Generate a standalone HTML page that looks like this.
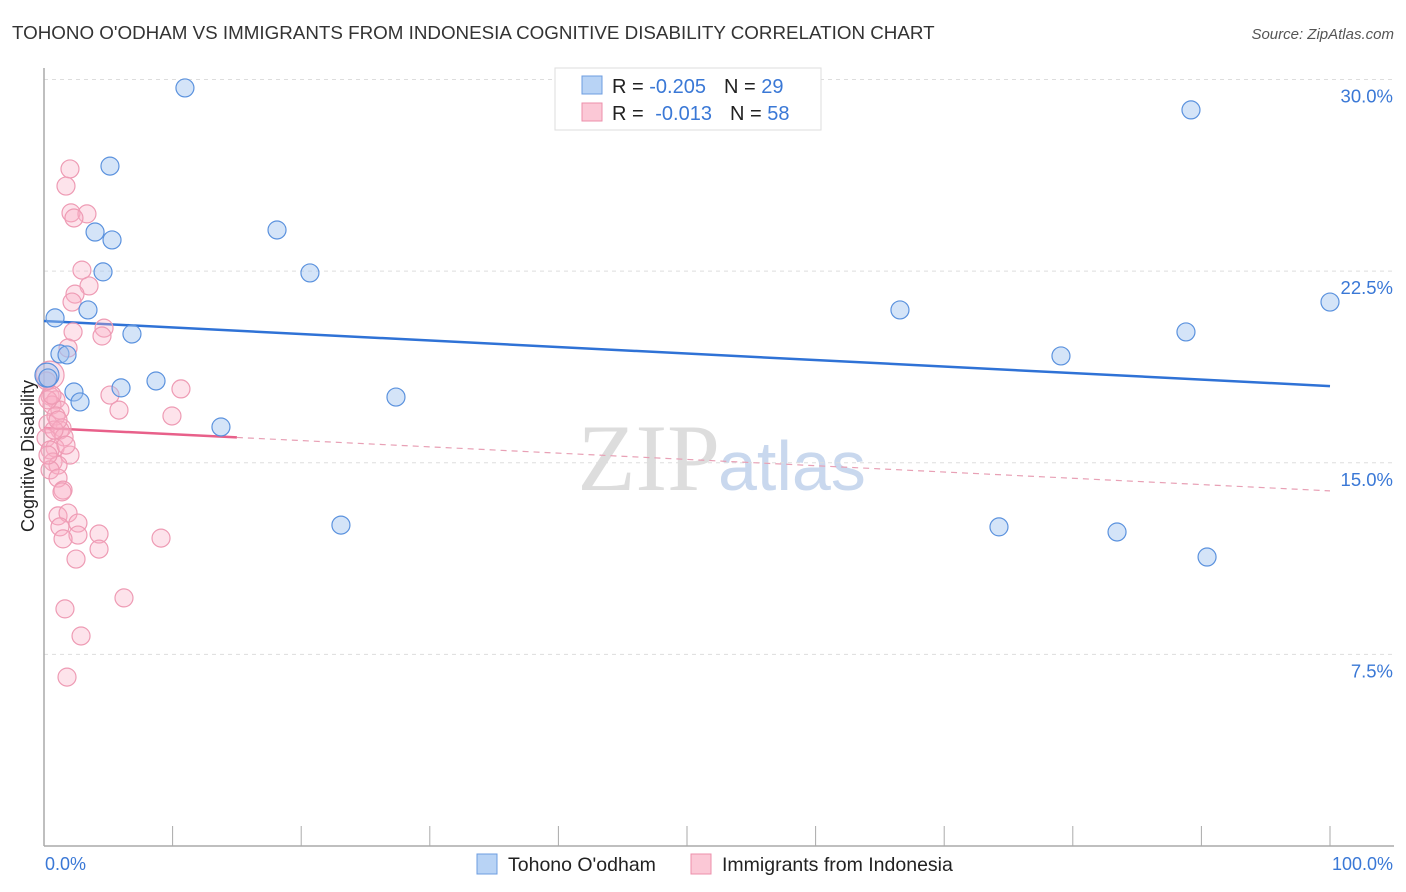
<!DOCTYPE html>
<html><head><meta charset="utf-8">
<style>
body{margin:0;background:#fff;font-family:"Liberation Sans",sans-serif;}
#wrap{position:relative;width:1406px;height:892px;overflow:hidden;}
</style></head>
<body>
<div id="wrap">
<svg id="chart" width="1406" height="892" xmlns="http://www.w3.org/2000/svg">
<text x="12" y="39" font-size="18.8" fill="#333">TOHONO O'ODHAM VS IMMIGRANTS FROM INDONESIA COGNITIVE DISABILITY CORRELATION CHART</text>
<text x="1394" y="39" font-size="15" fill="#555" font-style="italic" text-anchor="end">Source: ZipAtlas.com</text>
<text x="720" y="490" font-size="95" fill="#ddd" text-anchor="end" font-family="Liberation Serif,serif">ZIP</text>
<text x="718" y="490" font-size="70" fill="#c9d8ee">atlas</text>
<g id="grid"></g><g id="axes"></g><g id="trend"></g><g id="pts"></g>
<text transform="translate(34,456) rotate(-90)" font-size="18" fill="#222" text-anchor="middle">Cognitive Disability</text>
<text x="45" y="870" font-size="18" fill="#3a78d6">0.0%</text>
<text x="1393" y="870" font-size="18" fill="#3a78d6" text-anchor="end">100.0%</text>
<g>
<rect x="555" y="68" width="266" height="62" fill="#fff" stroke="#ddd"/>
<rect x="582" y="76" width="20" height="18" fill="#b8d3f5" stroke="#6d9de0"/>
<rect x="582" y="103" width="20" height="18" fill="#fbc8d6" stroke="#ec8fab"/>
<text x="612" y="93" font-size="20" fill="#222">R = <tspan fill="#3a78d6">-0.205</tspan><tspan dx="18">N = </tspan><tspan fill="#3a78d6">29</tspan></text>
<text x="612" y="120" font-size="20" fill="#222">R = <tspan dx="6" fill="#3a78d6">-0.013</tspan><tspan dx="18">N = </tspan><tspan fill="#3a78d6">58</tspan></text>
</g>
<g>
<rect x="477" y="854" width="20" height="20" fill="#b8d3f5" stroke="#6d9de0"/>
<text x="508" y="871" font-size="19.5" fill="#222">Tohono O'odham</text>
<rect x="691" y="854" width="20" height="20" fill="#fbc8d6" stroke="#ec8fab"/>
<text x="722" y="871" font-size="19.5" fill="#222">Immigrants from Indonesia</text>
</g>
</svg>
</div>
<script>
const yTicks=[7.5,15,22.5,30];
const yTickLabels=["7.5%","15.0%","22.5%","30.0%"];
const blueX=[10.96,5.13,3.97,5.29,18.12,4.59,20.68,0.86,3.42,6.84,1.24,1.79,2.33,2.80,5.99,8.71,27.37,13.76,23.09,89.19,100,66.56,88.80,79.08,74.26,83.44,90.44,0.23,0.31];
const blueY=[29.67,26.61,24.03,23.72,24.11,22.47,22.43,20.67,20.98,20.04,19.26,19.22,17.77,17.38,17.93,18.20,17.57,16.40,12.56,28.81,21.29,20.98,20.12,19.18,12.49,12.29,11.31,18.43,18.32];
const pinkX=[2.02,1.71,2.10,3.34,2.33,2.95,3.50,2.41,2.18,4.67,2.26,4.51,1.87,0.47,5.13,5.83,10.65,9.95,0.47,0.93,0.62,1.24,0.93,0.31,1.40,1.24,0.16,1.56,0.86,2.02,0.47,0.70,1.09,0.47,1.09,1.48,1.40,1.09,1.87,2.64,1.24,2.64,1.48,4.28,4.28,9.10,2.49,6.22,1.63,2.88,1.79,0.31,0.78,1.71,0.31,0.62,1.09,0.2];
const pinkY=[26.50,25.83,24.78,24.74,24.58,22.54,21.92,21.60,21.29,20.27,20.12,19.96,19.49,18.43,17.65,17.06,17.89,16.83,17.61,17.46,17.26,17.06,16.83,16.52,16.36,16.28,15.97,16.01,15.58,15.30,15.50,15.03,14.91,14.72,14.40,13.93,13.86,12.92,13.03,12.64,12.49,12.17,12.02,12.21,11.62,12.05,11.23,9.71,9.28,8.22,6.61,17.46,16.28,15.69,15.30,17.65,16.67,18.2];
const blueTrend=[20.55,18.0];
const pinkTrend=[16.36,13.9];
const pinkSolidEnd=15;
const NS="http://www.w3.org/2000/svg";
const X=v=>44+v*12.86, Y=v=>846-v*25.55;
function mk(tag,attrs,parent){const e=document.createElementNS(NS,tag);for(const k in attrs)e.setAttribute(k,attrs[k]);document.getElementById(parent).appendChild(e);return e;}
yTicks.forEach((t,i)=>{
 const l=mk('line',{x1:44,x2:1394,y1:Y(t),y2:Y(t),stroke:'#ddd','stroke-dasharray':'4,4'},'grid');
 
 
 const tx=mk('text',{x:1393,y:Y(t)+23,'font-size':18.5,fill:'#3a78d6','text-anchor':'end'},'grid');
 tx.textContent=yTickLabels[i];
 
 
});
const ya=mk('line',{x1:44,x2:44,y1:68,y2:846,stroke:'#aaa','stroke-width':1.5},'axes');


const xa=mk('line',{x1:44,x2:1394,y1:846,y2:846,stroke:'#aaa','stroke-width':1.5},'axes');


for(let i=0;i<=10;i++){
 const tk=mk('line',{x1:X(i*10),x2:X(i*10),y1:826,y2:846,stroke:'#aaa'},'axes');
 
 
}
const bt=mk('line',{x1:X(0),y1:Y(blueTrend[0]),x2:X(100),y2:Y(blueTrend[1]),stroke:'#2f72d6','stroke-width':2.5},'trend');


const pm=pinkTrend[0]+(pinkTrend[1]-pinkTrend[0])*pinkSolidEnd/100;
const ps=mk('line',{x1:X(0),y1:Y(pinkTrend[0]),x2:X(pinkSolidEnd),y2:Y(pm),stroke:'#e8608a','stroke-width':2.5},'trend');


const pd=mk('line',{x1:X(pinkSolidEnd),y1:Y(pm),x2:X(100),y2:Y(pinkTrend[1]),stroke:'#e8a0b5','stroke-width':1.2,'stroke-dasharray':'6,5'},'trend');


pinkX.forEach((x,i)=>{
 const c=mk('circle',{cx:X(x),cy:Y(pinkY[i]),r:(i==13?14:9),fill:'rgba(248,175,198,0.35)',stroke:'#ee9bb4','stroke-width':1.2},'pts');
 
 
});
blueX.forEach((x,i)=>{
 const c=mk('circle',{cx:X(x),cy:Y(blueY[i]),r:(i==27?12:9),fill:'rgba(160,196,240,0.45)',stroke:'#5b92de','stroke-width':1.2},'pts');
 
 
});
</script>
</body></html>
